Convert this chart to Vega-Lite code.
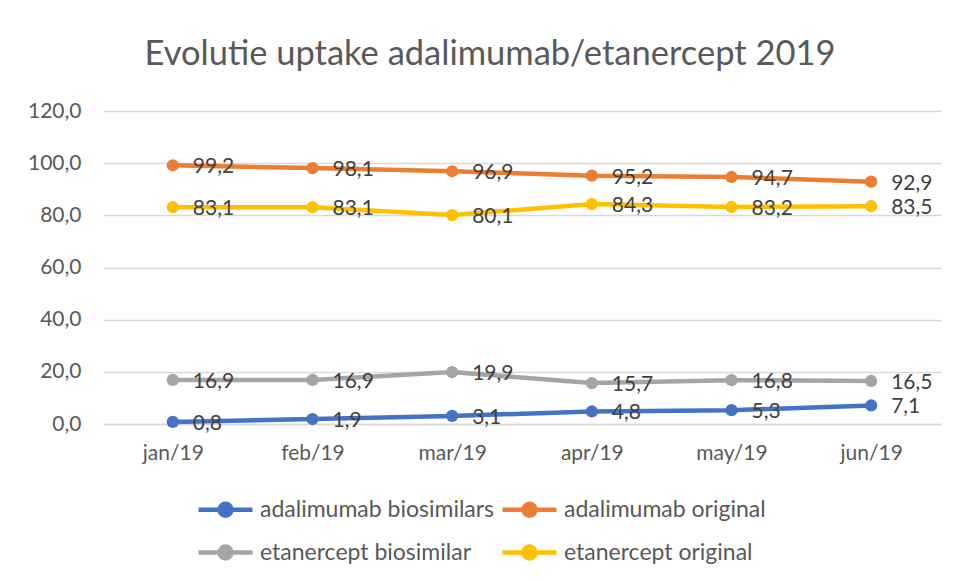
{
  "$schema": "https://vega.github.io/schema/vega-lite/v6.json",
  "width": 838,
  "height": 313,
  "autosize": "none",
  "padding": {"left": 103, "top": 111, "right": 18, "bottom": 157},
  "background": "white",
  "title": {
    "text": "Evolutie uptake adalimumab/etanercept 2019",
    "font": "Lato",
    "fontSize": 34.5,
    "fontWeight": "normal",
    "color": "#595959",
    "frame": "group",
    "anchor": "middle",
    "dx": -32,
    "offset": 28
  },
  "config": {
    "locale": {"number": {"decimal": ",", "thousands": ".", "grouping": [3], "currency": ["€", ""]}},
    "view": {"stroke": null},
    "font": "Lato"
  },
  "data": {
    "values": [
      {"month": "jan/19", "series": "adalimumab biosimilars", "value": 0.8},
      {"month": "jan/19", "series": "adalimumab original", "value": 99.2},
      {"month": "jan/19", "series": "etanercept biosimilar", "value": 16.9},
      {"month": "jan/19", "series": "etanercept original", "value": 83.1},
      {"month": "feb/19", "series": "adalimumab biosimilars", "value": 1.9},
      {"month": "feb/19", "series": "adalimumab original", "value": 98.1},
      {"month": "feb/19", "series": "etanercept biosimilar", "value": 16.9},
      {"month": "feb/19", "series": "etanercept original", "value": 83.1},
      {"month": "mar/19", "series": "adalimumab biosimilars", "value": 3.1},
      {"month": "mar/19", "series": "adalimumab original", "value": 96.9},
      {"month": "mar/19", "series": "etanercept biosimilar", "value": 19.9},
      {"month": "mar/19", "series": "etanercept original", "value": 80.1},
      {"month": "apr/19", "series": "adalimumab biosimilars", "value": 4.8},
      {"month": "apr/19", "series": "adalimumab original", "value": 95.2},
      {"month": "apr/19", "series": "etanercept biosimilar", "value": 15.7},
      {"month": "apr/19", "series": "etanercept original", "value": 84.3},
      {"month": "may/19", "series": "adalimumab biosimilars", "value": 5.3},
      {"month": "may/19", "series": "adalimumab original", "value": 94.7},
      {"month": "may/19", "series": "etanercept biosimilar", "value": 16.8},
      {"month": "may/19", "series": "etanercept original", "value": 83.2},
      {"month": "jun/19", "series": "adalimumab biosimilars", "value": 7.1},
      {"month": "jun/19", "series": "adalimumab original", "value": 92.9},
      {"month": "jun/19", "series": "etanercept biosimilar", "value": 16.5},
      {"month": "jun/19", "series": "etanercept original", "value": 83.5}
    ]
  },
  "encoding": {
    "x": {
      "field": "month",
      "type": "nominal",
      "sort": ["jan/19", "feb/19", "mar/19", "apr/19", "may/19", "jun/19"],
      "axis": {
        "title": null,
        "labelAngle": 0,
        "ticks": false,
        "grid": false,
        "domainColor": "#d9d9d9",
        "domainWidth": 1.5,
        "labelFontSize": 21,
        "labelColor": "#595959",
        "labelPadding": 18
      }
    },
    "y": {
      "field": "value",
      "type": "quantitative",
      "scale": {"domain": [0, 120]},
      "axis": {
        "title": null,
        "values": [0, 20, 40, 60, 80, 100, 120],
        "format": ".1f",
        "domain": false,
        "ticks": false,
        "gridColor": "#d9d9d9",
        "gridWidth": 1.5,
        "labelFontSize": 21,
        "labelColor": "#595959",
        "labelPadding": 22
      }
    },
    "color": {
      "field": "series",
      "type": "nominal",
      "scale": {
        "domain": ["adalimumab biosimilars", "adalimumab original", "etanercept biosimilar", "etanercept original"],
        "range": ["#4472C4", "#ED7D31", "#A5A5A5", "#FFC000"]
      },
      "legend": {
        "title": null,
        "orient": "none",
        "legendX": 102,
        "legendY": 378,
        "direction": "horizontal",
        "columns": 2,
        "columnPadding": -2,
        "rowPadding": 7,
        "symbolType": "M-1.5,0H1.5M-0.33,0A0.33,0.33,0,1,0,0.33,0A0.33,0.33,0,1,0,-0.33,0Z",
        "symbolSize": 1296,
        "symbolStrokeWidth": 4.5,
        "labelFontSize": 23,
        "labelColor": "#595959",
        "labelOffset": 14,
        "labelLimit": 0,
        "encode": {
          "symbols": {
            "update": {
              "fill": {"scale": "color", "field": "value"},
              "stroke": {"scale": "color", "field": "value"},
              "opacity": {"value": 1}
            }
          }
        }
      }
    }
  },
  "layer": [
    {"mark": {"type": "line", "strokeWidth": 4.5}},
    {"mark": {"type": "point", "filled": true, "size": 150, "opacity": 1}},
    {
      "mark": {"type": "text", "align": "left", "baseline": "middle", "dx": 20, "dy": 2, "fontSize": 21, "color": "#404040"},
      "encoding": {
        "text": {"field": "value", "type": "quantitative", "format": ".1f"},
        "color": {"value": "#404040"}
      }
    }
  ]
}
